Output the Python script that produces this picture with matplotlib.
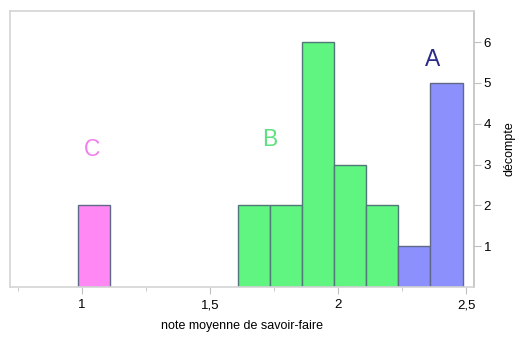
import matplotlib
matplotlib.use("Agg")
import matplotlib.pyplot as plt
from matplotlib.ticker import FixedLocator

plt.rcParams['font.family'] = ['Liberation Sans', 'DejaVu Sans']

# histogram bins (left edge) and counts per group
bin_width = 0.125
c_left = [0.985]
c_count = [2]
b_left = [1.61, 1.735, 1.86, 1.985, 2.11]
b_count = [2, 2, 6, 3, 2]
a_left = [2.235, 2.36]
a_count = [1, 5]

x_ticks = [1, 1.5, 2, 2.5]
x_labels = ["1", "1,5", "2", "2,5"]
y_ticks = [1, 2, 3, 4, 5, 6]

fig = plt.figure(figsize=(5.17, 3.38), dpi=100)
ax = fig.add_axes([0.019, 0.151, 0.898, 0.816])

edge = "#507878"
ax.bar(c_left, c_count, width=bin_width, align='edge', color="#ff88f4", edgecolor="#606a88", linewidth=1)
ax.bar(b_left, b_count, width=bin_width, align='edge', color="#60f480", edgecolor=edge, linewidth=1)
ax.bar(a_left, a_count, width=bin_width, align='edge', color="#8c90fc", edgecolor="#606a88", linewidth=1)

ax.text(1.04, 3.38, "C", color="#f080ec", fontsize=16.5, ha='center', va='center')
ax.text(1.735, 3.62, "B", color="#60e080", fontsize=16.5, ha='center', va='center')
ax.text(2.37, 5.58, "A", color="#2a2a88", fontsize=16.5, ha='center', va='center')

ax.set_xlim(0.72, 2.53)
ax.set_ylim(0, 6.76)

for s in ax.spines.values():
    s.set_color("#d4d4d4")
    s.set_linewidth(1.2)
ax.spines['right'].set_color("#c0c0c0")

ax.set_xticks(x_ticks)
ax.set_xticklabels(x_labels)
ax.xaxis.set_minor_locator(FixedLocator([0.75, 1.25, 1.75, 2.25]))
ax.tick_params(axis='x', which='major', length=5, color="#c0c0c0", labelsize=9.5, pad=4)
ax.tick_params(axis='x', which='minor', length=3, color="#c0c0c0")

ax.yaxis.tick_right()
ax.yaxis.set_label_position('right')
ax.set_yticks(y_ticks)
ax.tick_params(axis='y', length=5, color="#c0c0c0", labelsize=9.5, pad=2)

ax.set_xlabel("note moyenne de savoir-faire", fontsize=9, labelpad=6)
ax.set_ylabel("décompte", fontsize=9)
ax.yaxis.label.set_va('center')
ax.yaxis.label.set_ha('center')
ax.yaxis.set_label_coords(1.076, 0.5)

fig.savefig("out.png", dpi=100)
